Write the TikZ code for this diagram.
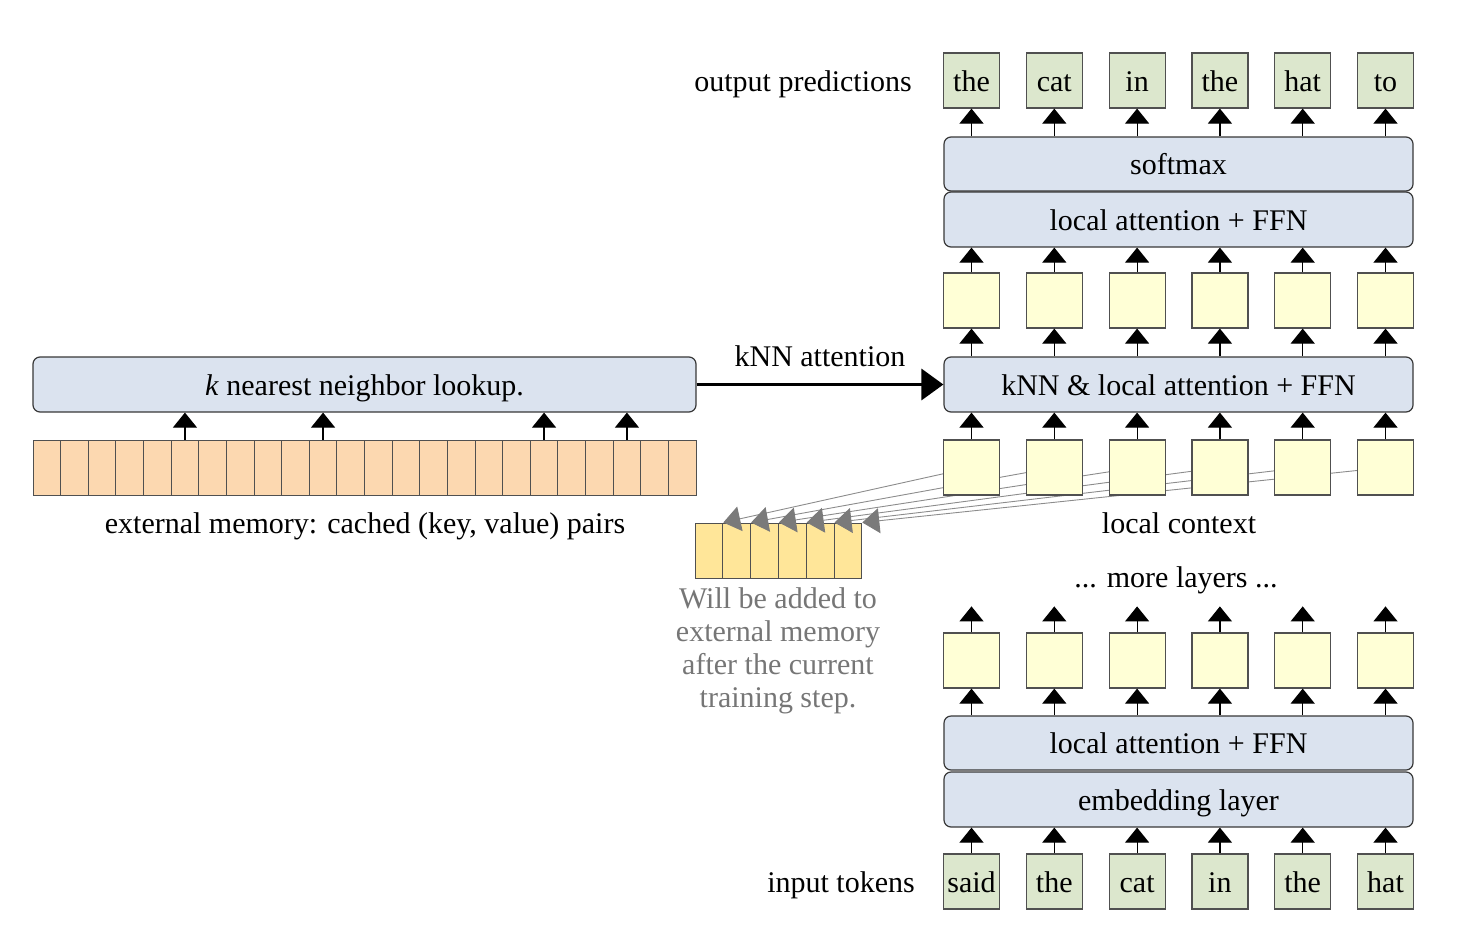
\documentclass[tikz,border=0pt]{standalone}
\usepackage{fontspec}
\setmainfont{Liberation Serif}
\usetikzlibrary{arrows.meta}

\definecolor{tokgreen}{HTML}{DCE7CD}
\definecolor{hidyellow}{HTML}{FFFFD6}
\definecolor{layerblue}{HTML}{DBE3EF}
\definecolor{memorange}{HTML}{FCD8B0}
\definecolor{newgold}{HTML}{FFE699}
\definecolor{boxedge}{HTML}{505050}
\definecolor{layeredge}{HTML}{383838}
\definecolor{linegray}{HTML}{8C8C8C}
\definecolor{tipgray}{HTML}{7A7A7A}
\definecolor{notegray}{HTML}{767676}

\pgfdeclarelayer{background}
\pgfsetlayers{background,main}

\begin{document}
\begin{tikzpicture}[x=1pt,y=-1pt,
  every node/.style={font=\fontsize{30}{33}\selectfont, inner sep=0pt},
  lbl/.style={text height=26pt, text depth=5pt},
  cellbox/.style={lbl, draw=boxedge, line width=1.2pt, minimum width=56pt, minimum height=55pt},
  token/.style={cellbox, fill=tokgreen},
  hidden/.style={cellbox, fill=hidyellow},
  layerbox/.style={lbl, draw=layeredge, line width=1.2pt, fill=layerblue, rounded corners=7pt,
                   minimum width=469pt, minimum height=55pt},
  memcell/.style={draw=boxedge, line width=1pt, fill=memorange, minimum width=27.625pt, minimum height=55pt},
  newcell/.style={draw=boxedge, line width=1pt, fill=newgold, minimum width=27.8pt, minimum height=55pt},
  up/.style={line width=1.2pt, -{Triangle[width=24pt,length=15pt]}},
  knnarrow/.style={line width=3.5pt, -{Triangle[width=31pt,length=22pt]}},
  grayarrow/.style={draw=linegray, line width=0.9pt, -{Triangle[width=25pt,length=17pt,color=tipgray]}}
]
\useasboundingbox (0,0) rectangle (1472,926);

% ---- right column: transformer stack ----
\foreach \w [count=\i] in {the,cat,in,the,hat,to}
  \node[token] (out-\i) at ({971.5+82.8*(\i-1)},80.5) {\w};
\node[lbl, anchor=east] (outlab) at (912,80.5) {output predictions};

\node[layerbox, minimum height=54pt] (sm) at (1178.5,164) {softmax};
\node[layerbox] (la1) at (1178.5,219.5) {local attention + FFN};

\foreach \i in {1,...,6}
  \node[hidden] (h1-\i) at ({971.5+82.8*(\i-1)},300.5) {};

\node[layerbox] (knn) at (1178.5,384.5) {kNN \& local attention + FFN};

\foreach \i in {1,...,6}
  \node[hidden] (ctx-\i) at ({971.5+82.8*(\i-1)},467.5) {};
\node[lbl] (ctxlab) at (1179,523) {local context};

\node[lbl] (more) at (1176,577) {... more layers ...};

\foreach \i in {1,...,6}
  \node[hidden] (h3-\i) at ({971.5+82.8*(\i-1)},660.5) {};

\node[layerbox, minimum height=54pt] (la2) at (1178.5,743) {local attention + FFN};
\node[layerbox] (emb) at (1178.5,799.5) {embedding layer};

\foreach \w [count=\i] in {said,the,cat,in,the,hat}
  \node[token] (in-\i) at ({971.5+82.8*(\i-1)},881.5) {\w};
\node[lbl, anchor=east] (inlab) at (915,881.5) {input tokens};

% vertical data flow
\foreach \i in {1,...,6} {
  \draw[up] (out-\i.south |- sm.north) -- (out-\i.south);
  \draw[up] (h1-\i.north) -- (h1-\i.north |- la1.south);
  \draw[up] (h1-\i.south |- knn.north) -- (h1-\i.south);
  \draw[up] (ctx-\i.north) -- (ctx-\i.north |- knn.south);
  \path (h3-\i.north) ++(0,-26) coordinate (top-\i);
  \draw[up] (h3-\i.north) -- (top-\i);
  \draw[up] (h3-\i.south |- la2.north) -- (h3-\i.south);
  \draw[up] (in-\i.north) -- (in-\i.north |- emb.south);
}

% ---- left: external memory ----
\foreach \i in {1,...,24}
  \node[memcell] (mem-\i) at ({33+27.625*(\i-0.5)},467.5) {};
\node[layerbox, minimum width=663pt] (lookup) at (364.5,384.5) {\textit{k} nearest neighbor lookup.};
\foreach \i in {6,11,19,22}
  \draw[up] (mem-\i.north) -- (mem-\i.north |- lookup.south);
\node[lbl] (memlab) at (365,523) {external memory: cached (key, value) pairs};

\draw[knnarrow] (lookup.east) -- node[lbl, above=11pt] {kNN attention} (knn.west);

% ---- keys/values of the local context, queued for the memory ----
\begin{pgfonlayer}{background}
  \foreach \i in {1,...,6}
    \node[newcell] (new-\i) at ({695+27.8*(\i-0.5)},550.5) {};
  \foreach \i in {1,...,6}
    \draw[grayarrow] (ctx-\i.center) -- (new-\i.north east);
\end{pgfonlayer}

\node[text=notegray, align=center] (note) at (778,651)
  {Will be added to\\external memory\\after the current\\training step.};

\end{tikzpicture}
\end{document}
